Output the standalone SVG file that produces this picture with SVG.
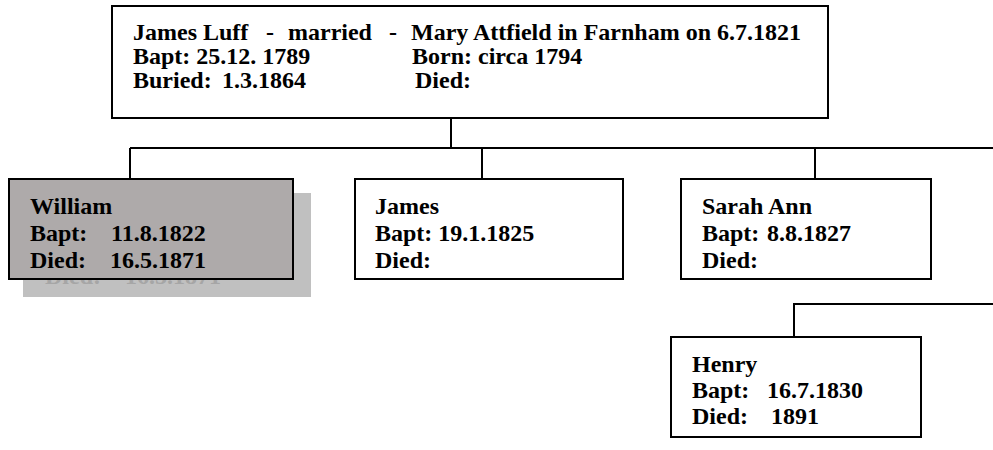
<svg xmlns="http://www.w3.org/2000/svg" width="993" height="450" viewBox="0 0 993 450">
<defs>
<clipPath id="shadowClip"><rect x="23" y="280" width="288" height="17"/></clipPath>
</defs>
<style>
.box{fill:#ffffff;stroke:#000000;stroke-width:2}
.t{font-family:"Liberation Serif","Times New Roman",serif;font-weight:bold;font-size:24px;fill:#000000}
.ghost{font-family:"Liberation Serif","Times New Roman",serif;font-weight:bold;font-size:24px;fill:#a6a6a6}
.ln{fill:none;stroke:#000000;stroke-width:2}
</style>
<rect width="993" height="450" fill="#ffffff"/>
<g id="connectors">
<path class="ln" d="M451,118 V148"/>
<path class="ln" d="M130,148 H993"/>
<path class="ln" d="M130,148 V179"/>
<path class="ln" d="M482,148 V179"/>
<path class="ln" d="M815,148 V179"/>
<path class="ln" d="M794,337 V304 H993"/>
</g>
<g id="parents">
<rect class="box" x="112" y="6" width="716" height="112"/>
<text class="t" x="133" y="40">James Luff</text>
<text class="t" x="266" y="40">-</text>
<text class="t" x="288" y="40">married</text>
<text class="t" x="389" y="40">-</text>
<text class="t" x="411" y="40">Mary Attfield in Farnham on 6.7.1821</text>
<text class="t" x="133" y="64">Bapt: 25.12. 1789</text>
<text class="t" x="412" y="64">Born: circa 1794</text>
<text class="t" x="133" y="88">Buried:</text>
<text class="t" x="222" y="88">1.3.1864</text>
<text class="t" x="415" y="88">Died:</text>
</g>
<g id="william">
<rect x="23" y="193" width="288" height="104" fill="#c0c0c0"/>
<g clip-path="url(#shadowClip)">
<text class="ghost" x="45" y="284">Died:</text>
<text class="ghost" x="125" y="284">16.5.1871</text>
</g>
<rect x="9" y="179" width="284" height="100" fill="#aeaaaa" stroke="#000000" stroke-width="2"/>
<text class="t" x="30" y="214">William</text>
<text class="t" x="30" y="241">Bapt:</text>
<text class="t" x="111" y="241">11.8.1822</text>
<text class="t" x="30" y="268">Died:</text>
<text class="t" x="110" y="268">16.5.1871</text>
</g>
<g id="james">
<rect class="box" x="355" y="179" width="268" height="100"/>
<text class="t" x="375" y="214">James</text>
<text class="t" x="375" y="241">Bapt: 19.1.1825</text>
<text class="t" x="375" y="268">Died:</text>
</g>
<g id="sarah">
<rect class="box" x="681" y="179" width="250" height="100"/>
<text class="t" x="702" y="214">Sarah Ann</text>
<text class="t" x="702" y="241">Bapt:</text>
<text class="t" x="767" y="241">8.8.1827</text>
<text class="t" x="702" y="268">Died:</text>
</g>
<g id="henry">
<rect class="box" x="671" y="337" width="250" height="100"/>
<text class="t" x="692" y="372">Henry</text>
<text class="t" x="692" y="398">Bapt:</text>
<text class="t" x="767" y="398">16.7.1830</text>
<text class="t" x="692" y="424">Died:</text>
<text class="t" x="771" y="424">1891</text>
</g>
</svg>
